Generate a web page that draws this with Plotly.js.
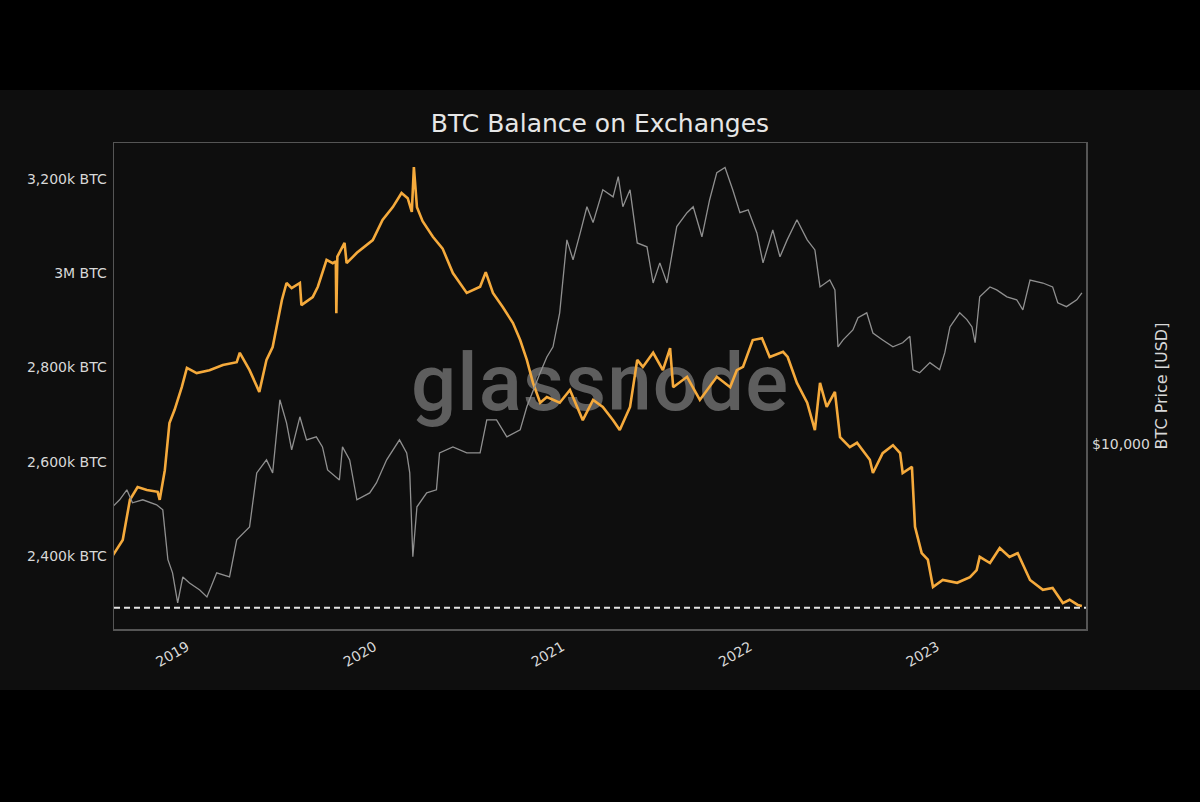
<!DOCTYPE html>
<html>
<head>
<meta charset="utf-8">
<script src="https://cdn.plot.ly/plotly-3.0.1.min.js"></script>
<style>
  html, body { margin: 0; padding: 0; background: #000; }
  #frame { position: relative; width: 1200px; height: 600px; margin-top: 90px; background: #0e0e0e; }
  #mark {
    position: absolute; left: 0; top: 253px; width: 1200px; text-align: center;
    font-family: Roboto, sans-serif; font-weight: 500; font-size: 80px; line-height: 80px;
    letter-spacing: 1px; color: #5e5e5e; z-index: 0;
  }
  #chart { position: absolute; left: 0; top: 0; width: 1200px; height: 600px; z-index: 1; }
</style>
</head>
<body>
<div id="frame">
  <div id="mark">glassnode</div>
  <div id="chart"></div>
</div>
<script>
// Balance on exchanges (decimal year, thousands of BTC)
const balanceYears = [
  2018.605, 2018.659, 2018.696, 2018.739, 2018.787, 2018.845, 2018.856, 2018.883, 2018.909, 2018.936,
  2018.973, 2019.000, 2019.053, 2019.123, 2019.192, 2019.267, 2019.283, 2019.336, 2019.389, 2019.427,
  2019.459, 2019.507, 2019.533, 2019.560, 2019.603, 2019.613, 2019.672, 2019.699, 2019.747, 2019.779,
  2019.795, 2019.800, 2019.805, 2019.816, 2019.843, 2019.853, 2019.907, 2019.992, 2020.045, 2020.099,
  2020.147, 2020.179, 2020.200, 2020.211, 2020.227, 2020.259, 2020.312, 2020.365, 2020.419, 2020.493,
  2020.563, 2020.595, 2020.632, 2020.685, 2020.739, 2020.776, 2020.813, 2020.845, 2020.883, 2020.920,
  2020.989, 2021.043, 2021.112, 2021.165, 2021.219, 2021.272, 2021.309, 2021.363, 2021.400, 2021.432,
  2021.485, 2021.539, 2021.576, 2021.592, 2021.667, 2021.736, 2021.827, 2021.896, 2021.933, 2021.965,
  2022.019, 2022.067, 2022.109, 2022.179, 2022.205, 2022.253, 2022.307, 2022.349, 2022.376, 2022.413,
  2022.456, 2022.483, 2022.536, 2022.573, 2022.643, 2022.659, 2022.712, 2022.765, 2022.803, 2022.819,
  2022.867, 2022.883, 2022.920, 2022.952, 2022.979, 2023.032, 2023.107, 2023.176, 2023.213, 2023.229,
  2023.283, 2023.336, 2023.389, 2023.432, 2023.496, 2023.565, 2023.619, 2023.672, 2023.709, 2023.752,
  2023.773
];
const balanceK = [
  2400, 2434, 2519, 2546, 2540, 2536, 2519, 2582, 2682, 2710,
  2758, 2799, 2788, 2794, 2805, 2811, 2831, 2794, 2748, 2816,
  2843, 2943, 2979, 2968, 2979, 2932, 2949, 2971, 3028, 3021,
  3025, 2915, 3035, 3043, 3064, 3021, 3043, 3070, 3113, 3140,
  3170, 3159, 3130, 3225, 3140, 3110, 3077, 3052, 3000, 2958,
  2971, 3002, 2958, 2928, 2894, 2858, 2816, 2767, 2725, 2737,
  2725, 2752, 2688, 2731, 2716, 2688, 2667, 2716, 2816, 2801,
  2831, 2794, 2841, 2758, 2780, 2731, 2780, 2758, 2794, 2801,
  2858, 2862, 2822, 2833, 2822, 2767, 2725, 2667, 2767, 2716,
  2748, 2652, 2631, 2640, 2604, 2576, 2618, 2635, 2618, 2576,
  2589, 2462, 2406, 2392, 2334, 2349, 2343, 2355, 2370, 2398,
  2385, 2417, 2398, 2406, 2349, 2328, 2332, 2300, 2307, 2296,
  2294
];

// BTC price (decimal year, USD)
const priceYears = [
  2018.605, 2018.643, 2018.680, 2018.712, 2018.765, 2018.840, 2018.872, 2018.899, 2018.925, 2018.952,
  2018.979, 2019.016, 2019.069, 2019.107, 2019.160, 2019.229, 2019.267, 2019.336, 2019.373, 2019.427,
  2019.459, 2019.496, 2019.533, 2019.560, 2019.603, 2019.640, 2019.693, 2019.725, 2019.752, 2019.816,
  2019.832, 2019.869, 2019.907, 2019.976, 2020.013, 2020.067, 2020.136, 2020.173, 2020.189, 2020.205,
  2020.227, 2020.280, 2020.333, 2020.349, 2020.419, 2020.493, 2020.563, 2020.600, 2020.653, 2020.707,
  2020.776, 2020.813, 2020.883, 2020.920, 2020.952, 2020.989, 2021.027, 2021.059, 2021.096, 2021.133,
  2021.165, 2021.219, 2021.272, 2021.299, 2021.325, 2021.363, 2021.400, 2021.453, 2021.485, 2021.523,
  2021.560, 2021.613, 2021.667, 2021.699, 2021.747, 2021.789, 2021.827, 2021.869, 2021.912, 2021.949,
  2021.992, 2022.040, 2022.072, 2022.125, 2022.163, 2022.200, 2022.253, 2022.307, 2022.349, 2022.376,
  2022.429, 2022.456, 2022.472, 2022.499, 2022.552, 2022.579, 2022.627, 2022.659, 2022.712, 2022.765,
  2022.819, 2022.856, 2022.872, 2022.909, 2022.963, 2023.016, 2023.043, 2023.069, 2023.123, 2023.160,
  2023.187, 2023.203, 2023.229, 2023.283, 2023.320, 2023.373, 2023.427, 2023.459, 2023.496, 2023.565,
  2023.619, 2023.645, 2023.693, 2023.747, 2023.773
];
const priceUsd = [
  6455, 6778, 7262, 6637, 6778, 6547, 6320, 4468, 4078, 3310,
  3963, 3800, 3622, 3451, 4078, 3963, 5128, 5612, 8171, 8947,
  8171, 13590, 11570, 9590, 12070, 10280, 10500, 9790, 8340, 7780,
  9790, 8947, 6778, 7110, 7620, 8947, 10280, 9390, 8171, 4560,
  6455, 7110, 7262, 9390, 9790, 9390, 9390, 11820, 11820, 10500,
  11020, 12940, 16390, 18300, 19630, 24870, 41300, 35960, 43350, 52000,
  46570, 58500, 55700, 64100, 52000, 58500, 40430, 39360, 30600, 35200,
  30600, 45290, 49900, 52000, 42200, 54600, 65900, 68300, 58500, 49900,
  50900, 43350, 35200, 44250, 36700, 41300, 47500, 41300, 38500, 29780,
  31240, 29180, 19630, 20600, 22080, 24030, 24870, 21610, 20600, 19630,
  20200, 21130, 16740, 16390, 17590, 16740, 18850, 22540, 24870, 23720,
  22540, 20200, 27800, 29780, 29180, 27800, 27230, 25400, 31240, 30600,
  29780, 26670, 25960, 27230, 28570
];

const minBalanceK = 2290;
const yearTicks = [2019, 2020, 2021, 2022, 2023];
const balanceTicks = [2400, 2600, 2800, 3000, 3200];
const balanceTickText = ['2,400k BTC', '2,600k BTC', '2,800k BTC', '3M BTC', '3,200k BTC'];

// decimal year -> 'YYYY-MM-DD'
function toDate(y) {
  const yr = Math.floor(y);
  const start = Date.UTC(yr, 0, 1);
  const end = Date.UTC(yr + 1, 0, 1);
  return new Date(start + (y - yr) * (end - start)).toISOString().slice(0, 10);
}

const textColor = '#d8d8d8';
const frameColor = '#555';

const traces = [
  {
    x: priceYears.map(toDate),
    y: priceUsd,
    yaxis: 'y2',
    mode: 'lines',
    line: { color: '#909090', width: 1.3 },
    hoverinfo: 'skip'
  },
  {
    x: balanceYears.map(toDate),
    y: balanceK,
    yaxis: 'y',
    mode: 'lines',
    line: { color: '#f5aa3c', width: 2.6 },
    hoverinfo: 'skip'
  }
];

const layout = {
  width: 1200,
  height: 600,
  margin: { l: 114, r: 114, t: 53, b: 61 },
  paper_bgcolor: 'rgba(0,0,0,0)',
  plot_bgcolor: 'rgba(0,0,0,0)',
  font: { family: 'DejaVu Sans, sans-serif', size: 14, color: textColor },
  showlegend: false,
  title: {
    text: 'BTC Balance on Exchanges',
    font: { size: 25, color: '#e6e6e6' },
    x: 0.5, xanchor: 'center',
    y: 1 - 33 / 600, yanchor: 'middle', yref: 'container'
  },
  xaxis: {
    type: 'date',
    range: [toDate(2018.611), toDate(2023.795)],
    tickvals: yearTicks.map(y => toDate(y)),
    ticktext: yearTicks.map(String),
    tickangle: -30,
    ticks: '',
    ticklabelstandoff: 3,
    showgrid: false, zeroline: false,
    showline: true, mirror: true, linecolor: frameColor, linewidth: 1.5,
    tickfont: { size: 14, color: textColor }
  },
  yaxis: {
    range: [2245, 3276],
    tickvals: balanceTicks,
    ticktext: balanceTickText,
    ticks: '',
    ticklabelstandoff: 3,
    showgrid: false, zeroline: false,
    showline: true, mirror: true, linecolor: frameColor, linewidth: 1.5,
    tickfont: { size: 14, color: textColor }
  },
  yaxis2: {
    overlaying: 'y',
    side: 'right',
    type: 'log',
    range: [Math.log10(2760), Math.log10(81000)],
    tickvals: [10000],
    ticktext: ['$10,000'],
    ticks: '',
    ticklabelstandoff: 5,
    showgrid: false, zeroline: false, showline: false,
    tickfont: { size: 14, color: textColor },
    title: { text: 'BTC Price [USD]', font: { size: 16, color: textColor }, standoff: 6 }
  },
  shapes: [
    {
      type: 'line', xref: 'paper', x0: 0, x1: 1, yref: 'y', y0: minBalanceK, y1: minBalanceK,
      line: { color: '#e4e4e4', width: 2, dash: '6px,4px' }
    }
  ]
};

Plotly.newPlot('chart', traces, layout, { displayModeBar: false, staticPlot: true });
</script>
</body>
</html>
